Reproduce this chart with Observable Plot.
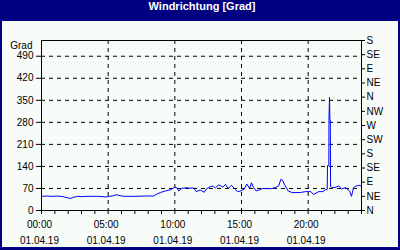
<!DOCTYPE html>
<html><head><meta charset="utf-8">
<script src="https://cdn.jsdelivr.net/npm/d3@7"></script>
<script src="https://cdn.jsdelivr.net/npm/@observablehq/plot@0.6"></script>
<style>
html,body{margin:0;padding:0;background:#fff;}
#frame{width:400px;height:250px;background:#000080;position:relative;overflow:hidden;}
#title{height:21px;line-height:21px;color:#fff;font:bold 11px "Liberation Sans",Arial,sans-serif;text-align:center;padding-left:4px;}
#chart{position:absolute;left:2px;top:21px;width:396px;height:226px;background:#f8fcf8;}
#chart svg{display:block;}
</style></head><body>
<div id="frame"><div id="title">Windrichtung [Grad]</div><div id="chart"></div></div>
<script>
// Hours since 01.04.19 00:00
const hours = [0.0,0.4,0.8,1.2,1.6,2.0,2.15,2.4,2.7,3.0,3.4,3.8,4.2,4.6,4.85,5.1,5.4,5.65,5.9,6.2,7.0,7.8,8.4,8.55,8.9,9.3,9.7,10.0,10.15,10.3,10.5,10.8,11.2,11.4,11.6,11.9,12.2,12.4,12.8,13.05,13.3,13.6,13.8,14.0,14.25,14.5,14.7,14.95,15.2,15.4,15.6,15.75,15.9,16.1,16.3,16.6,17.2,17.55,17.8,17.95,18.1,18.2,18.5,18.8,19.4,19.8,20.2,20.4,20.8,21.1,21.3,21.43,21.45,21.55,21.56,21.6,21.63,21.66,21.68,21.8,22.0,22.3,22.5,22.8,23.1,23.25,23.4,23.6,23.8,24.0];
// Wind direction in degrees
const degrees = [45,46,45,46,44,40,38,42,45,44,45,45,45,44,43,45,47,50,47,45,45,46,46,50,57,62,66,74,72,62,70,72,71,72,60,65,58,70,78,72,82,74,83,70,80,68,60,62,68,84,70,88,73,62,65,70,69,73,79,99,95,84,62,57,57,60,60,51,60,60,66,67,143,143,288,360,288,288,76,73,73,78,68,73,62,45,73,78,80,78];

const gradTicks = [0,70,140,210,280,350,420,490];
const compassTicks = [0,45,90,135,180,225,270,315,360,405,450,495,540];
const compassLabels = ["N","NE","E","SE","S","SW","W","NW","N","NE","E","SE","S"];
const hourTicks = [0,1,2,3,4,5,6,7,8,9,10,11,12,13,14,15,16,17,18,19,20,21,22,23,24];
const timeTicks = [0,5,10,15,20];
const timeLabels = ["00:00","05:00","10:00","15:00","20:00"];
const dateLabels = ["01.04.19","01.04.19","01.04.19","01.04.19","01.04.19"];

const data = hours.map((h,i)=>({h, v: degrees[i]}));
const compassMap = new Map(compassTicks.map((t,i)=>[t, compassLabels[i]]));
const timeMap = new Map(timeTicks.map((t,i)=>[t, timeLabels[i]]));
const dateMap = new Map(timeTicks.map((t,i)=>[t, dateLabels[i]]));

const chart = Plot.plot({
  width: 396,
  height: 226,
  marginLeft: 39,
  marginRight: 37,
  marginTop: 19,
  marginBottom: 37,
  style: {background: "transparent", fontFamily: "'Liberation Sans', Arial, sans-serif", fontSize: "10px", color: "black"},
  x: {domain: [0, 24]},
  y: {domain: [0, 540]},
  marks: [
    Plot.gridY(gradTicks.slice(1), {stroke: "black", strokeOpacity: 1, strokeDasharray: "4,4"}),
    Plot.gridX(timeTicks.slice(1), {stroke: "black", strokeOpacity: 1, strokeDasharray: "4,4"}),
    Plot.line(data, {x: "h", y: "v", stroke: "#0000ff", strokeWidth: 1}),
    Plot.frame({stroke: "black"}),
    Plot.axisY(gradTicks, {anchor: "left", tickSize: 5, tickPadding: 3, label: null}),
    Plot.axisY(compassTicks, {anchor: "right", tickSize: 3, tickPadding: 2, tickFormat: d => compassMap.get(d), label: null}),
    Plot.axisX(hourTicks, {tickSize: 4, tickFormat: () => "", label: null}),
    Plot.axisX(timeTicks, {tickSize: 0, tickPadding: 10, dx: -2, tickFormat: d => timeMap.get(d), label: null}),
    Plot.axisX(timeTicks, {tickSize: 0, tickPadding: 26, dx: -2, tickFormat: d => dateMap.get(d), label: null}),
    Plot.text(["Grad"], {frameAnchor: "top-left", dx: -9, dy: 1, textAnchor: "end", fill: "black"})
  ]
});
document.getElementById("chart").appendChild(chart);
</script>
</body></html>
